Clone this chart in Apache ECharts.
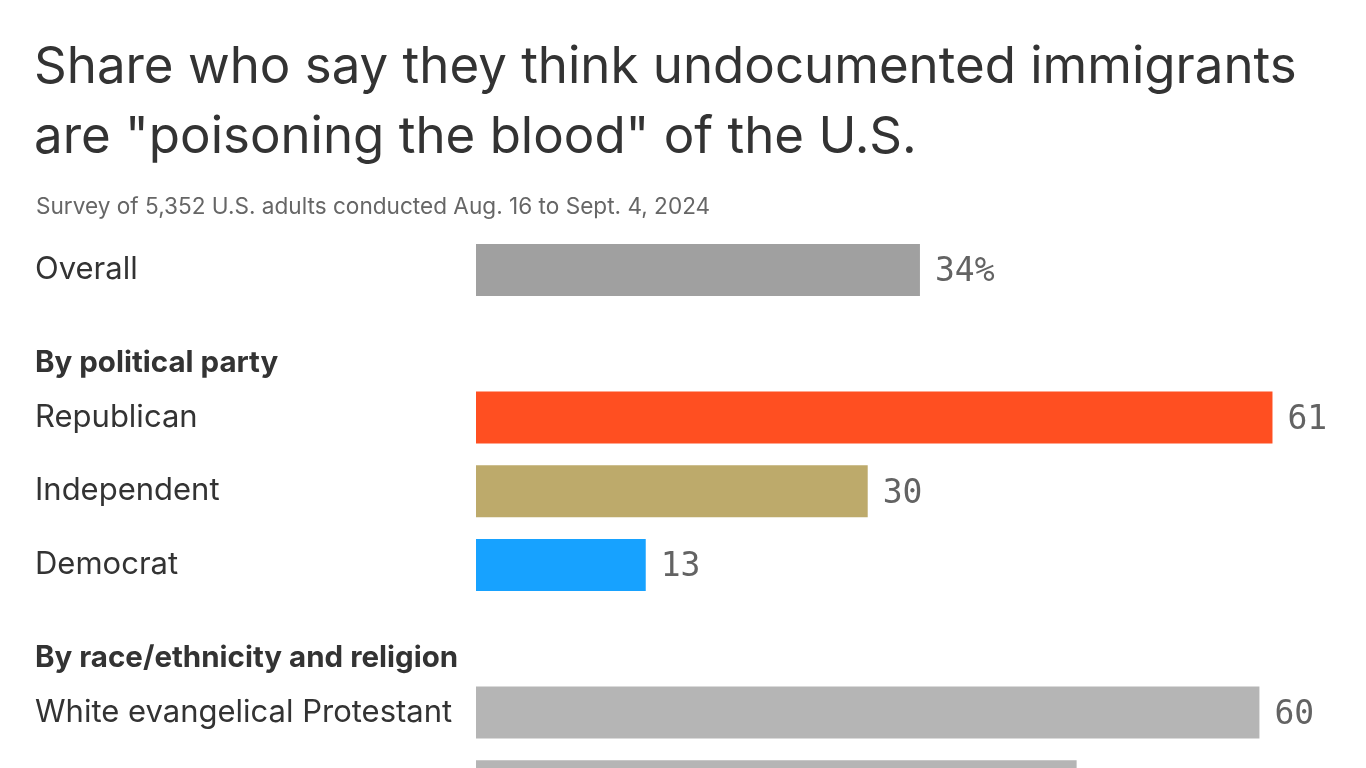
<!DOCTYPE html>
<html><head><meta charset="utf-8">
<script src="https://cdn.jsdelivr.net/npm/echarts@6/dist/echarts.min.js"></script>
<style>html,body{margin:0;padding:0;background:#fff;overflow:hidden;width:1366px;height:768px}#c{width:1400px;height:840px}</style>
</head><body><div id="c"></div>
<script>
const titleText = 'Share who say they think undocumented immigrants\nare "poisoning the blood" of the U.S.';
const subtitleText = 'Survey of 5,352 U.S. adults conducted Aug. 16 to Sept. 4, 2024';
const categories = ['Overall', 'By political party', 'Republican', 'Independent', 'Democrat', 'By race/ethnicity and religion', 'White evangelical Protestant', 'White Catholic'];
const headings = ['By political party', 'By race/ethnicity and religion'];
const values = [34, null, 61, 30, 13, null, 60, 46];
const barColors = ['#a0a0a0', null, '#ff4f21', '#bdaa6b', '#17a2ff', null, '#b5b5b5', '#b5b5b5'];

const chart = echarts.init(document.getElementById('c'), null, {renderer: 'canvas'});
const FONT = 'Inter';
chart.setOption({
  animation: false,
  backgroundColor: '#ffffff',
  title: [{
    text: titleText, left: 29, top: 28,
    textStyle: {fontFamily: FONT, fontSize: 51, fontWeight: 'normal', color: '#333333', lineHeight: 70}
  }, {
    text: subtitleText, left: 31, top: 191,
    textStyle: {fontFamily: FONT, fontSize: 22.6, fontWeight: 'normal', color: '#666666'}
  }],
  grid: {left: 476, top: 233, width: 914, height: 590, containLabel: false},
  xAxis: {type: 'value', min: 0, max: 70, show: false},
  yAxis: {
    type: 'category', data: categories, inverse: true,
    axisLine: {show: false}, axisTick: {show: false}, splitLine: {show: false},
    axisLabel: {
      margin: 441, align: 'left',
      formatter: v => headings.includes(v) ? '{h|' + v + '}' : '{n|' + v + '}',
      rich: {
        n: {fontFamily: FONT, fontSize: 31, color: '#333333'},
        h: {fontFamily: FONT, fontSize: 29.5, fontWeight: 'bold', color: '#333333', padding: [38, 0, 0, 0]}
      }
    }
  },
  series: [{
    type: 'bar', barWidth: 52,
    data: values.map((v, i) => v === null ? null : {value: v, itemStyle: {color: barColors[i]}}),
    label: {
      show: true, position: 'right', distance: 15, offset: [0, 3],
      fontFamily: 'DejaVu Sans Mono', fontSize: 33, color: '#636363',
      formatter: p => p.dataIndex === 0 ? p.value + '%' : String(p.value)
    }
  }]
});
</script></body></html>
